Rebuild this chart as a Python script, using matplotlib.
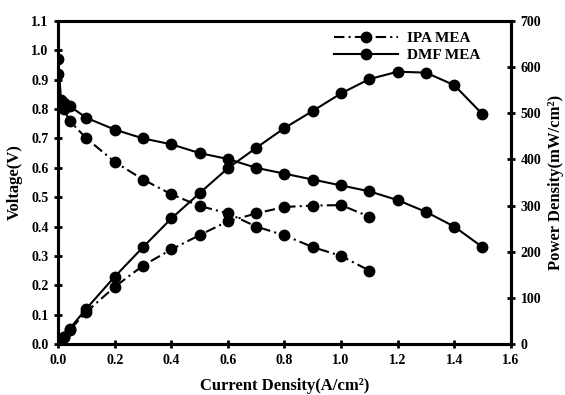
import numpy as np
import matplotlib.pyplot as plt
from matplotlib.ticker import FormatStrFormatter

plt.rcParams['font.family'] = ['Liberation Serif', 'DejaVu Serif']
plt.rcParams['font.weight'] = 'bold'

# current density (A/cm2)
ipa_i = [0, 0.01, 0.02, 0.04, 0.1, 0.2, 0.3, 0.4, 0.5, 0.6, 0.7, 0.8, 0.9, 1.0, 1.1]
dmf_i = [0, 0.01, 0.02, 0.04, 0.1, 0.2, 0.3, 0.4, 0.5, 0.6, 0.7, 0.8, 0.9, 1.0,
         1.1, 1.2, 1.3, 1.4, 1.5]

# voltage (V)
ipa_v = [0.92, 0.82, 0.80, 0.76, 0.70, 0.62, 0.56, 0.51, 0.47, 0.445, 0.40, 0.37,
         0.33, 0.30, 0.25]
dmf_v = [0.97, 0.83, 0.82, 0.81, 0.77, 0.73, 0.70, 0.68, 0.65, 0.63, 0.60, 0.58,
         0.56, 0.54, 0.52, 0.49, 0.45, 0.40, 0.33]

# power density (mW/cm2)
ipa_p = [0, 8, 16, 30, 70, 124, 170, 205, 236, 266, 283, 297, 300, 301, 276]
dmf_p = [0, 8, 16, 33, 77, 146, 210, 272, 327, 381, 425, 468, 505, 543, 574,
         590, 588, 561, 498]

fig = plt.figure(figsize=(5.65, 3.95), dpi=100)
ax = fig.add_axes([0.103, 0.129, 0.801, 0.818])
ax2 = ax.twinx()

dash = (5, 2, 1, 2)
mk = dict(marker='o', markersize=7.5, color='black', lw=1.5)

l1, = ax.plot(ipa_i, ipa_v, dashes=dash, label='IPA MEA', **mk)
l2, = ax.plot(dmf_i, dmf_v, '-', label='DMF MEA', **mk)
ax2.plot(ipa_i, ipa_p, dashes=dash, **mk)
ax2.plot(dmf_i, dmf_p, '-', **mk)

ax.set_xlim(0, 1.6)
ax.set_ylim(0, 1.1)
ax2.set_ylim(0, 700)
ax.set_xticks(np.arange(0, 1.61, 0.2))
ax.set_yticks(np.arange(0, 1.11, 0.1))
ax2.set_yticks(np.arange(0, 701, 100))
ax.xaxis.set_major_formatter(FormatStrFormatter('%.1f'))
ax.yaxis.set_major_formatter(FormatStrFormatter('%.1f'))

for a in (ax, ax2):
    for s in a.spines.values():
        s.set_linewidth(2.2)
    a.tick_params(direction='inout', length=6, width=2, labelsize=10, pad=4)
ax.tick_params(top=False)

ax.set_xlabel('Current Density(A/cm²)', fontsize=12, fontweight='bold', labelpad=8)
ax.set_ylabel('Voltage(V)', fontsize=12, fontweight='bold', labelpad=6)
ax2.set_ylabel('Power Density(mW/cm²)', fontsize=12, fontweight='bold', labelpad=5)

ax.legend(handles=[l1, l2], loc='upper left', bbox_to_anchor=(0.585, 1.0),
          frameon=False, fontsize=11, handlelength=4.2, handletextpad=0.6,
          labelspacing=0.2, numpoints=1, borderaxespad=0.3)

fig.savefig('out.png', dpi=100)
